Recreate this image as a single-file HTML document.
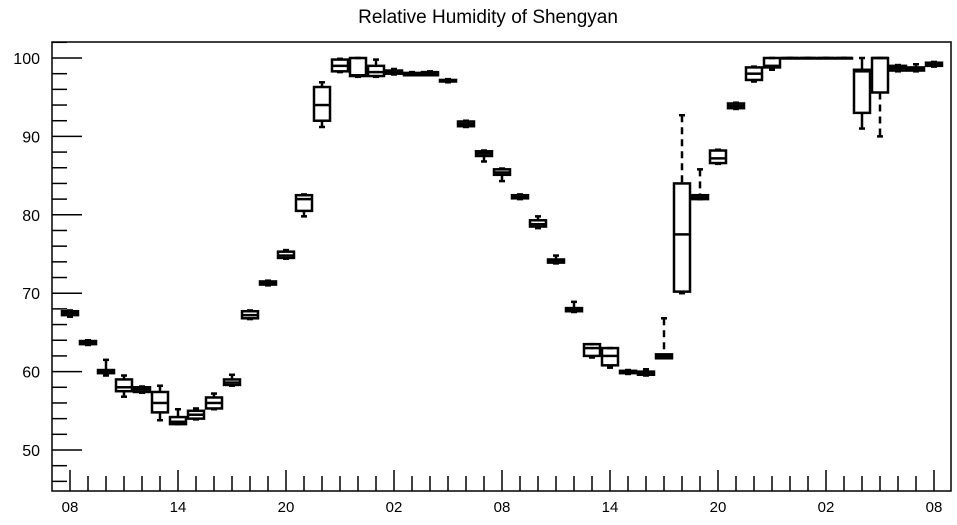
<!DOCTYPE html>
<html><head><meta charset="utf-8"><style>
body{margin:0;background:#fff;font-family:"Liberation Sans",sans-serif}
svg text{font-family:"Liberation Sans",sans-serif}
</style></head><body>
<svg id="c" width="957" height="520">
<text x="488" y="23" font-size="19" text-anchor="middle">Relative Humidity of Shengyan</text>
<rect x="52" y="42" width="899" height="449" fill="none" stroke="#000" stroke-width="1.5"/>
<g id="axes"></g><g id="boxes"></g>
</svg>
<script>
const hours=["08","09","10","11","12","13","14","15","16","17","18","19","20","21","22","23","00","01","02","03","04","05","06","07","08","09","10","11","12","13","14","15","16","17","18","19","20","21","22","23","00","01","02","03","04","05","06","07","08"];
const q1=[67.2,63.5,59.8,57.5,57.4,54.8,53.3,54,55.3,58.3,66.8,71.1,74.5,80.5,92,98.3,97.7,97.7,98,97.8,97.8,97,91.3,87.5,85.1,82.1,78.5,73.9,67.7,62,60.8,59.8,59.6,61.7,70.2,82,86.6,93.6,97.2,98.8,100,100,100,100,93,95.6,98.4,98.4,99];
const med=[67.5,63.7,60,58,57.7,56,53.6,54.5,56,58.6,67.2,71.3,74.8,82,94,99,97.8,98.2,98.2,98,98,97.1,91.6,87.8,85.4,82.3,78.8,74.1,67.9,63,62,60,59.8,62,77.5,82.2,87.2,93.9,98,99,100,100,100,100,98.3,100,98.7,98.6,99.2];
const q3=[67.7,63.9,60.2,59,58,57.4,54.2,55,56.7,59,67.7,71.5,75.3,82.5,96.3,99.8,100,99,98.4,98.1,98.2,97.2,91.9,88.1,85.8,82.5,79.3,74.3,68.1,63.5,63,60.1,60,62.2,84,82.5,88.2,94.2,98.8,100,100,100,100,100,98.5,100,99,98.8,99.4];
const lo=[67,63.4,59.5,56.8,57.3,53.8,53.3,53.9,55.2,58.2,66.7,71,74.4,79.8,91.2,98.2,97.6,97.6,97.9,97.8,97.8,96.9,91.2,86.8,84.3,82,78.3,73.8,67.6,61.8,60.5,59.7,59.5,61.8,70,82,86.5,93.5,97,98.5,100,100,100,100,91,90,98.3,98.3,98.9];
const hi=[67.8,64,61.5,59.5,58.1,58.2,55.2,55.3,57.2,59.6,67.8,71.6,75.5,82.6,96.9,99.9,100,99.8,98.6,98.2,98.3,97.3,92,88.2,85.9,82.6,79.8,74.8,68.9,63.5,63,60.2,60.3,66.8,92.7,85.8,88.3,94.3,98.9,100,100,100,100,100,100,100,99.1,99.2,99.5];
const yTicks=[50,60,70,80,90,100];
const Y=v=>58+(100-v)*7.84, X=i=>70+18*i;
const ns="http://www.w3.org/2000/svg";
function mk(t,a,p){const e=document.createElementNS(ns,t);for(const k in a)e.setAttribute(k,a[k]);p.appendChild(e);return e;}
const ax=document.getElementById('axes'), bx=document.getElementById('boxes');
for(let v=46;v<=102;v+=2){const major=v%10===0;
 const l=mk('line',{x1:52,x2:major?82:67,y1:Y(v),y2:Y(v),stroke:'#000','stroke-width':1.5},ax);
 
 }
yTicks.forEach(v=>{const t=mk('text',{x:40,y:Y(v)+6,'font-size':16,'text-anchor':'end'},ax);t.textContent=v;
 
 });
hours.forEach((h,i)=>{const l=mk('line',{x1:X(i),x2:X(i),y1:491,y2:(i%6===0)?470:476,stroke:'#000','stroke-width':1.5},ax);
 
 
 if(i%6===0){const t=mk('text',{x:X(i),y:512,'font-size':15,'text-anchor':'middle'},ax);t.textContent=h;
 
 }});
hours.forEach((h,i)=>{const g=mk('g',{},bx);
 
 
 const x=X(i),w=16,st={stroke:'#000','stroke-width':2.5,fill:'none'};
 const dash=(hi[i]-q3[i]>3||q1[i]-lo[i]>3)?'7,5':'none';
 mk('line',Object.assign({x1:x,x2:x,y1:Y(hi[i]),y2:Y(q3[i]),'stroke-dasharray':dash},st),g);
 mk('line',Object.assign({x1:x,x2:x,y1:Y(q1[i]),y2:Y(lo[i]),'stroke-dasharray':dash},st),g);
 mk('line',Object.assign({x1:x-3,x2:x+3,y1:Y(hi[i]),y2:Y(hi[i])},st),g);
 mk('line',Object.assign({x1:x-3,x2:x+3,y1:Y(lo[i]),y2:Y(lo[i])},st),g);
 mk('rect',Object.assign({x:x-w/2,y:Y(q3[i]),width:w,height:Math.max(0.5,Y(q1[i])-Y(q3[i]))},st),g);
 mk('line',Object.assign({x1:x-w/2,x2:x+w/2,y1:Y(med[i]),y2:Y(med[i])},st),g);
});
</script>
</body></html>
